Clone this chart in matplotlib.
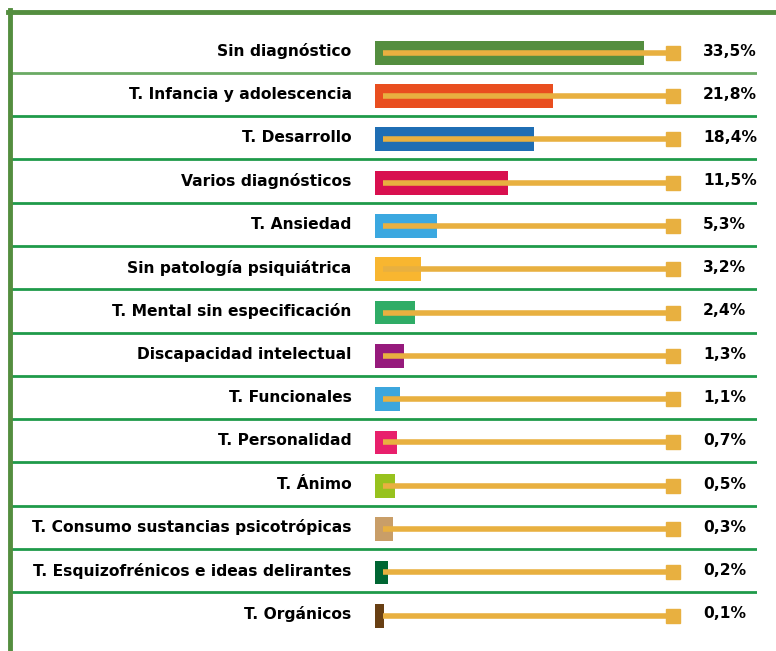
import matplotlib
matplotlib.use("Agg")
import matplotlib.pyplot as plt
from matplotlib.lines import Line2D

# ── datos ─────────────────────────────────────────────────────────────────────
categories = [
    "Sin diagnóstico",
    "T. Infancia y adolescencia",
    "T. Desarrollo",
    "Varios diagnósticos",
    "T. Ansiedad",
    "Sin patología psiquiátrica",
    "T. Mental sin especificación",
    "Discapacidad intelectual",
    "T. Funcionales",
    "T. Personalidad",
    "T. Ánimo",
    "T. Consumo sustancias psicotrópicas",
    "T. Esquizofrénicos e ideas delirantes",
    "T. Orgánicos",
]
pct = [33.5, 21.8, 18.4, 11.5, 5.3, 3.2, 2.4, 1.3, 1.1, 0.7, 0.5, 0.3, 0.2, 0.1]
# longitud dibujada de cada barra (la infografía no es lineal)
bar_len = [33.5, 22.2, 19.8, 16.6, 7.7, 5.7, 5.0, 3.6, 3.1, 2.7, 2.5, 2.2, 1.6, 1.1]
bar_colors = ["#548e3f", "#e94e1f", "#1f6eb4", "#d8104f", "#3ba8e0", "#f8b630",
              "#2fac66", "#961a7c", "#3ca6dd", "#e8206c", "#97c21e", "#c99e68",
              "#006633", "#683f13"]
track_end = 37.1

GREEN  = "#548e3f"
SEP    = "#1f9a4a"
ORANGE = "#e8b040"

fig = plt.figure(figsize=(7.76, 6.51), dpi=100)
W, H = 776, 651

# ejes en coordenadas de píxel: izquierda 12px, derecha 757px, arriba 13px, abajo 651px
ax = fig.add_axes([12 / W, 0, (757 - 12) / W, (651 - 13) / H])
px = 8.03          # píxeles por unidad
x0 = 375           # posición del cero
ax.set_xlim((12 - x0) / px, (757 - x0) / px)
row_h = 43.3
ax.set_ylim(13 + (651 - 614) / row_h, -(51 - 13) / row_h)
ax.axis("off")

ys = list(range(len(categories)))
bar_y = [y + 0.04 for y in ys]
ax.barh(bar_y, bar_len, height=0.55, color=bar_colors, left=0, zorder=2)
for y in bar_y:
    ax.plot([1.0, track_end], [y, y], color=ORANGE, lw=4, solid_capstyle="butt", zorder=3)
ax.plot([track_end] * len(ys), bar_y, ls="none", marker="s", ms=10, color=ORANGE, zorder=4)

for y, lab, p in zip(ys, categories, pct):
    ax.text(-2.9, y, lab, ha="right", va="center", fontsize=11.2, fontweight="bold",
            color="#000000")
    ax.text((703 - x0) / px, y, f"{p:.1f}%".replace(".", ","), ha="left",
            va="center", fontsize=11.2, fontweight="bold", color="#000000")

for i in range(len(categories) - 1):
    ax.axhline(i + 0.5, color="#6aaa64" if i == 0 else SEP, lw=2, zorder=1)

# marco verde superior e izquierdo
fig.add_artist(Line2D([8 / W, 1], [1 - 11.5 / H] * 2, color=GREEN, lw=3.5))
fig.add_artist(Line2D([9.5 / W] * 2, [0, 1 - 10 / H], color=GREEN, lw=3.5))

fig.savefig("out.png", dpi=100)
